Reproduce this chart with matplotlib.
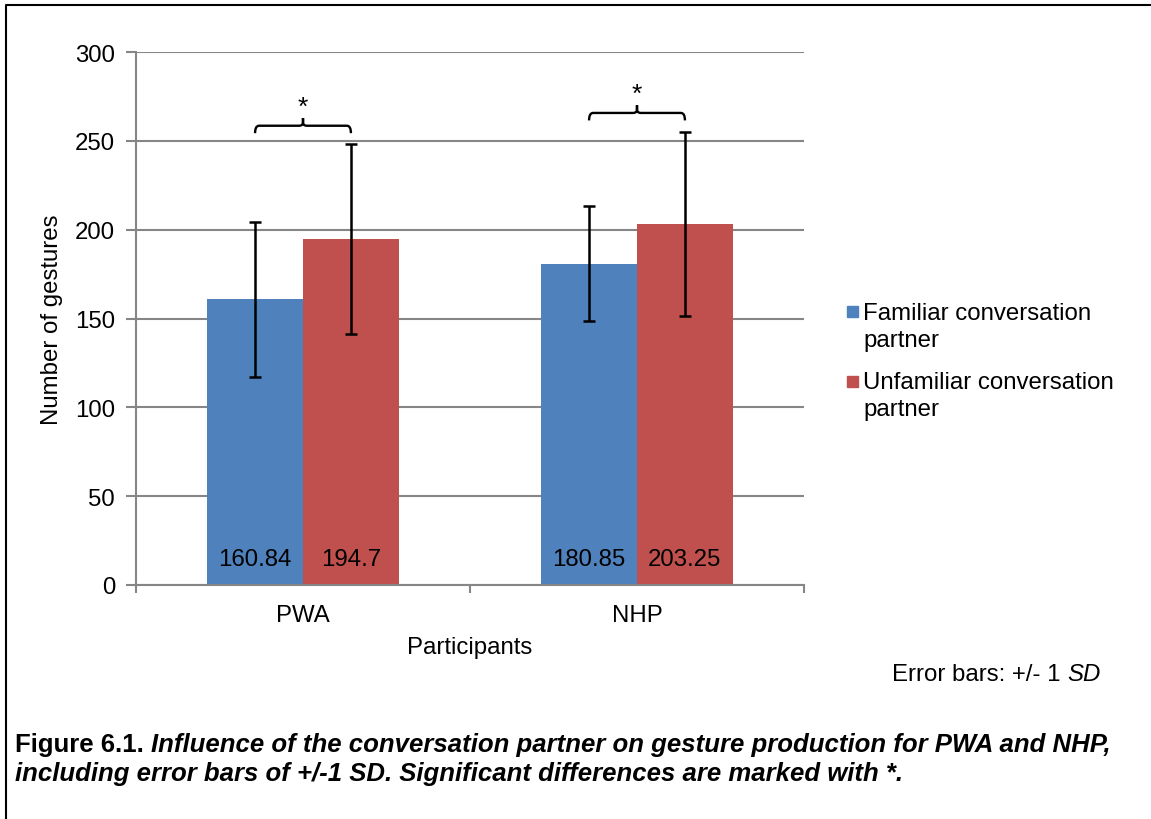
import numpy as np
import matplotlib.pyplot as plt
from matplotlib.lines import Line2D
from matplotlib.patches import Rectangle, PathPatch
from matplotlib.path import Path

plt.rcParams['font.family'] = ['Liberation Sans', 'DejaVu Sans']

# Data
groups = ['PWA', 'NHP']
series = ['Familiar conversation\npartner', 'Unfamiliar conversation\npartner']
means = [[160.84, 180.85],   # familiar
         [194.7, 203.25]]    # unfamiliar
sds = [[43.6, 32.3],
       [53.4, 51.6]]
value_labels = [['160.84', '180.85'], ['194.7', '203.25']]
colors = ['#4F81BD', '#C0504D']

# significance brackets (height of bracket line per group)
bracket_y = [258.5, 265.7]

W, H = 1151, 820
fs = 17.3
fig = plt.figure(figsize=(W / 100, H / 100), dpi=100)
ax = fig.add_axes([136 / W, 1 - 586 / H, 668 / W, 533 / H])

x = np.arange(len(groups)) + 0.5
width = 0.287
grey = '#868686'

for i in range(2):
    pos = x + (i - 0.5) * width
    ax.bar(pos, means[i], width=width, color=colors[i], zorder=2)
    ax.errorbar(pos, means[i], yerr=sds[i], fmt='none', ecolor='black',
                elinewidth=1.8, capsize=4.3, capthick=1.8, zorder=3)
    for p, lab in zip(pos, value_labels[i]):
        ax.text(p, 14.5, lab, ha='center', va='center', fontsize=fs, zorder=4)

# curly brackets with stars
rx, ry, d, tip = 0.012, 2.0, 4.2, 4.3
for g, yb in zip(x, bracket_y):
    x0, x1 = g - width / 2, g + width / 2
    verts = [(x0, yb - d), (x0, yb), (x0 + rx, yb),
             (g - rx, yb), (g, yb), (g, yb + ry),
             (g, yb + tip), (g, yb + ry),
             (g, yb), (g + rx, yb),
             (x1 - rx, yb), (x1, yb), (x1, yb - d)]
    codes = [Path.MOVETO, Path.CURVE3, Path.CURVE3,
             Path.LINETO, Path.CURVE3, Path.CURVE3,
             Path.LINETO, Path.LINETO,
             Path.CURVE3, Path.CURVE3,
             Path.LINETO, Path.CURVE3, Path.CURVE3]
    ax.add_patch(PathPatch(Path(verts, codes), fill=False, ec='black',
                           lw=1.7, zorder=3, clip_on=False))
    ax.text(g, yb + 10.5, '*', ha='center', va='center', fontsize=19)

ax.set_xlim(0, 2)
ax.set_ylim(0, 300)
ax.set_yticks(np.arange(0, 301, 50))
ax.set_xticks([0, 1, 2])
ax.set_xticklabels([])
ax.set_xticks(x, minor=True)
ax.set_xticklabels(groups, minor=True)
ax.tick_params(axis='x', which='minor', length=0, pad=14, labelsize=fs)
ax.tick_params(axis='x', which='major', length=6, width=1.5, color=grey)
ax.tick_params(axis='y', length=7, width=1.5, color=grey, labelsize=fs, pad=8)
ax.grid(axis='y', color=grey, lw=1.5, zorder=0)
ax.set_axisbelow(True)
for s in ['top', 'right']:
    ax.spines[s].set_visible(False)
for s in ['left', 'bottom']:
    ax.spines[s].set_color(grey)
    ax.spines[s].set_linewidth(1.5)

fig.text(52 / W, 1 - 320 / H, 'Number of gestures', rotation=90,
         ha='center', va='center', fontsize=fs)
fig.text(470 / W, 1 - 648 / H, 'Participants', ha='center', va='center',
         fontsize=fs)

# legend drawn by hand so the square sits on the first text line
leg_y = [312.5, 382]
for c, lab, yy in zip(colors, series, leg_y):
    fig.patches.append(Rectangle((847 / W, 1 - (yy + 5.5) / H), 11 / W, 11 / H,
                                 transform=fig.transFigure, color=c))
    fig.text(863 / W, 1 - (yy - 10) / H, lab, ha='left', va='top',
             fontsize=fs, linespacing=1.32)

# error bar note
t1 = fig.text(892 / W, 1 - 675 / H, 'Error bars: +/- 1 ', ha='left',
              va='center', fontsize=fs)
ax.annotate('SD', xy=(1, 0.5), xycoords=t1, ha='left', va='center',
            fontsize=fs, style='italic')

# caption
cfs = 18.5
c1 = fig.text(15 / W, 1 - 745 / H, 'Figure 6.1. ', ha='left', va='center',
              fontsize=cfs, weight='bold')
ax.annotate('Influence of the conversation partner on gesture production for PWA and NHP,',
            xy=(1, 0.5), xycoords=c1, ha='left', va='center', fontsize=cfs,
            weight='bold', style='italic')
fig.text(15 / W, 1 - 774 / H,
         'including error bars of +/-1 SD. Significant differences are marked with *.',
         ha='left', va='center', fontsize=cfs, weight='bold', style='italic')

# page frame (top and left edges)
fig.add_artist(Line2D([6 / W, 6 / W, 1], [0, 1 - 6 / H, 1 - 6 / H],
                      transform=fig.transFigure, color='black', lw=1.5))

fig.savefig('out.png', dpi=100)
